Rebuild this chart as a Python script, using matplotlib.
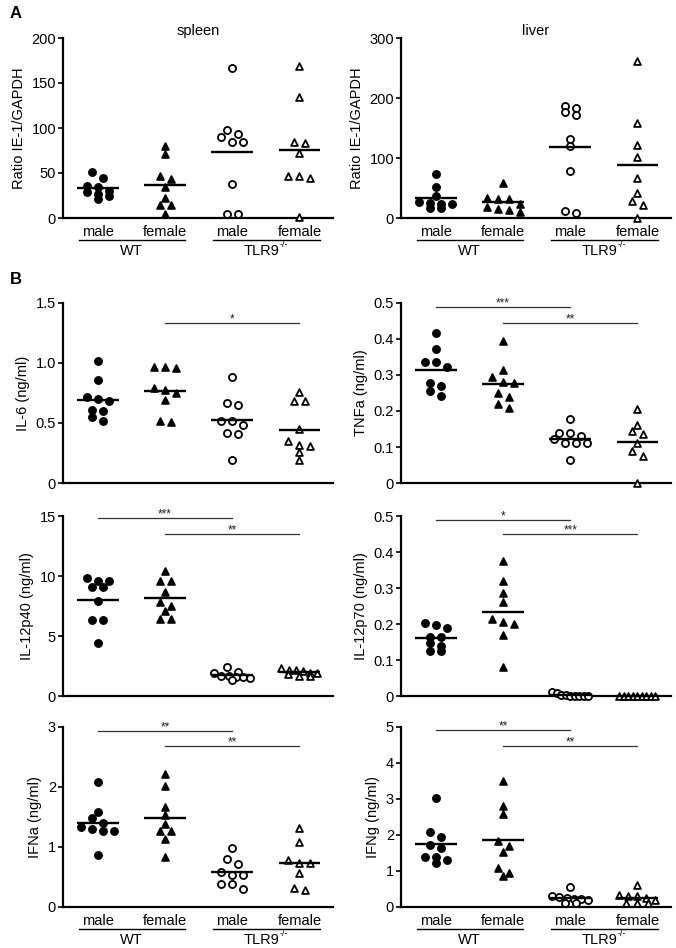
import numpy as np
import matplotlib
matplotlib.use('Agg')
import matplotlib.pyplot as plt
from matplotlib.transforms import blended_transform_factory, offset_copy

plt.rcParams['font.family'] = ['Liberation Sans', 'DejaVu Sans']

# ---------------- data ----------------
sexes = ['male', 'female', 'male', 'female']
genotypes = ['WT', 'TLR9']
genotype_sup = ['', '-/-']

# each panel: [WT male, WT female, TLR9-/- male, TLR9-/- female]
spleen = [[51, 45, 36, 35, 30, 29, 27, 25, 21],
          [80, 71, 47, 43, 35, 22, 15, 15, 4],
          [167, 98, 93, 90, 85, 85, 38, 4, 4],
          [169, 135, 84, 83, 72, 47, 45, 47, 1]]
liver = [[73, 51, 37, 27, 25, 24, 24, 17, 16],
         [58, 33, 32, 32, 24, 18, 15, 13, 10],
         [186, 183, 176, 172, 131, 120, 79, 11, 8],
         [262, 159, 122, 101, 67, 41, 29, 21, 0]]
il6 = [[1.02, 0.86, 0.72, 0.70, 0.68, 0.61, 0.60, 0.55, 0.52],
       [0.97, 0.965, 0.955, 0.795, 0.775, 0.75, 0.69, 0.515, 0.505],
       [0.88, 0.67, 0.65, 0.52, 0.52, 0.48, 0.42, 0.41, 0.19],
       [0.76, 0.68, 0.68, 0.45, 0.35, 0.32, 0.31, 0.26, 0.19]]
tnfa = [[0.416, 0.372, 0.337, 0.335, 0.323, 0.277, 0.27, 0.256, 0.242],
        [0.395, 0.314, 0.294, 0.28, 0.279, 0.249, 0.24, 0.219, 0.207],
        [0.179, 0.139, 0.139, 0.13, 0.122, 0.112, 0.112, 0.112, 0.063],
        [0.205, 0.161, 0.145, 0.135, 0.11, 0.089, 0.075, 0.0]]
il12p40 = [[9.8, 9.6, 9.6, 9.1, 9.1, 7.9, 6.3, 6.3, 4.4],
           [10.4, 9.6, 9.6, 8.7, 7.8, 7.5, 7.1, 6.4, 6.4],
           [2.4, 2.0, 1.9, 1.7, 1.7, 1.6, 1.6, 1.5, 1.3],
           [2.3, 2.2, 2.2, 2.1, 1.9, 1.9, 1.8, 1.7, 1.7]]
il12p70 = [[0.202, 0.197, 0.189, 0.165, 0.165, 0.147, 0.138, 0.124, 0.124],
           [0.375, 0.32, 0.285, 0.26, 0.215, 0.205, 0.2, 0.17, 0.08],
           [0.012, 0.009, 0.004, 0.002, 0.0, 0.0, 0.0, 0.0, 0.0],
           [0.0, 0.0, 0.0, 0.0, 0.0, 0.0, 0.0, 0.0, 0.0]]
ifna = [[2.08, 1.58, 1.48, 1.40, 1.33, 1.30, 1.27, 1.27, 0.87],
        [2.22, 2.02, 1.67, 1.53, 1.38, 1.27, 1.26, 1.14, 0.84],
        [0.99, 0.80, 0.72, 0.59, 0.54, 0.54, 0.39, 0.39, 0.30],
        [1.32, 1.08, 0.78, 0.74, 0.74, 0.56, 0.32, 0.28]]
ifng = [[3.02, 2.07, 1.95, 1.72, 1.65, 1.38, 1.38, 1.31, 1.22],
        [3.51, 2.81, 2.58, 1.84, 1.70, 1.53, 1.08, 0.94, 0.85],
        [0.55, 0.30, 0.27, 0.25, 0.22, 0.22, 0.20, 0.12, 0.12],
        [0.60, 0.32, 0.30, 0.30, 0.25, 0.20, 0.12, 0.12, 0.12]]

panels = [
    dict(data=spleen, ylabel='Ratio IE-1/GAPDH', title='spleen',
         ticks=[0, 50, 100, 150, 200], ticklabels=['0', '50', '100', '150', '200'], sig=[]),
    dict(data=liver, ylabel='Ratio IE-1/GAPDH', title='liver',
         ticks=[0, 100, 200, 300], ticklabels=['0', '100', '200', '300'], sig=[]),
    dict(data=il6, ylabel='IL-6 (ng/ml)', title=None,
         ticks=[0, 0.5, 1.0, 1.5], ticklabels=['0', '0.5', '1.0', '1.5'],
         sig=[(1, 3, 1.33, '*')]),
    dict(data=tnfa, ylabel='TNFa (ng/ml)', title=None,
         ticks=[0, 0.1, 0.2, 0.3, 0.4, 0.5], ticklabels=['0', '0.1', '0.2', '0.3', '0.4', '0.5'],
         sig=[(0, 2, 0.489, '***'), (1, 3, 0.444, '**')]),
    dict(data=il12p40, ylabel='IL-12p40 (ng/ml)', title=None,
         ticks=[0, 5, 10, 15], ticklabels=['0', '5', '10', '15'],
         sig=[(0, 2, 14.8, '***'), (1, 3, 13.5, '**')]),
    dict(data=il12p70, ylabel='IL-12p70 (ng/ml)', title=None,
         ticks=[0, 0.1, 0.2, 0.3, 0.4, 0.5], ticklabels=['0', '0.1', '0.2', '0.3', '0.4', '0.5'],
         sig=[(0, 2, 0.49, '*'), (1, 3, 0.45, '***')]),
    dict(data=ifna, ylabel='IFNa (ng/ml)', title=None,
         ticks=[0, 1, 2, 3], ticklabels=['0', '1', '2', '3'],
         sig=[(0, 2, 2.94, '**'), (1, 3, 2.68, '**')]),
    dict(data=ifng, ylabel='IFNg (ng/ml)', title=None,
         ticks=[0, 1, 2, 3, 4, 5], ticklabels=['0', '1', '2', '3', '4', '5'],
         sig=[(0, 2, 4.93, '**'), (1, 3, 4.47, '**')]),
]

# ---------------- layout ----------------
W, H = 676, 948
fig = plt.figure(figsize=(W / 100, H / 100), dpi=100)
lefts = [63, 401]
tops = [38, 303, 516, 727]
AX_W, AX_H = 270, 180
XLIM = (-0.52, 3.5)

markers = [dict(marker='o', facecolor='black'),
           dict(marker='^', facecolor='black'),
           dict(marker='o', facecolor='white'),
           dict(marker='^', facecolor='white')]

FS = 10.5


def swarm_offsets(vals, ymax):
    """simple row-based column scatter, in pixel space"""
    vals = np.asarray(vals, float)
    ypx = vals / ymax * AX_H
    xpu = AX_W / (XLIM[1] - XLIM[0])  # px per x unit
    order = np.argsort(-vals, kind='stable')
    offs = np.zeros(len(vals))
    rows = []
    cur = []
    for i in order:
        if cur and abs(ypx[cur[0]] - ypx[i]) > 5.5:
            rows.append(cur)
            cur = []
        cur.append(i)
    if cur:
        rows.append(cur)
    for r in rows:
        n = len(r)
        sep = 11.0
        if n > 1:
            sep = min(sep, 36.0 / (n - 1))
        for k, i in enumerate(r):
            offs[i] = (k - (n - 1) / 2) * sep / xpu
    return offs


geno_texts = []
for idx, p in enumerate(panels):
    row, col = divmod(idx, 2)
    top = tops[row]
    ax = fig.add_axes([lefts[col] / W, 1 - (top + AX_H) / H, AX_W / W, AX_H / H])
    ymax = p['ticks'][-1]
    ax.set_xlim(*XLIM)
    ax.set_ylim(0, ymax)
    for s in ['top', 'right']:
        ax.spines[s].set_visible(False)
    for s in ['left', 'bottom']:
        ax.spines[s].set_linewidth(1.6)
    ax.set_xticks([])
    ax.set_yticks(p['ticks'])
    ax.set_yticklabels(p['ticklabels'])
    ax.tick_params(axis='y', direction='out', length=3.5, width=1.2, labelsize=FS, pad=1.5)
    ax.set_ylabel(p['ylabel'], fontsize=FS, labelpad=4)
    if p['title']:
        ax.set_title(p['title'], fontsize=FS, pad=2)

    for g, vals in enumerate(p['data']):
        offs = swarm_offsets(vals, ymax)
        m = markers[g]
        ax.scatter(g + offs, vals, s=26 if m['marker'] == 'o' else 24, marker=m['marker'],
                   facecolor=m['facecolor'], edgecolor='black', linewidths=1.3,
                   clip_on=False, zorder=3)
        mu = np.mean(vals)
        ax.plot([g - 0.31, g + 0.31], [mu, mu], color='black', lw=1.7, zorder=4,
                solid_capstyle='butt', clip_on=False)

    for (a, b, y, star) in p['sig']:
        ax.plot([a, b], [y, y], color='#333333', lw=0.9, clip_on=False)
        ax.text((a + b) / 2, y, star, ha='center', va='center', fontsize=8.5,
                color='#222222',
                transform=offset_copy(ax.transData, fig=fig, y=3.5, units='dots'))

    # group labels below (top row and bottom row)
    if row in (0, 3):
        tr = blended_transform_factory(ax.transData, ax.transAxes)
        for g, sname in enumerate(sexes):
            ax.text(g, 0, sname, transform=offset_copy(tr, fig=fig, y=-14, units='dots'),
                    ha='center', va='center', fontsize=FS)
        for k, gname in enumerate(genotypes):
            x0, x1 = 2 * k - 0.28, 2 * k + 1 + 0.3
            ax.plot([x0, x1], [0, 0], color='black', lw=1.0, clip_on=False,
                    transform=offset_copy(tr, fig=fig, y=-21.5, units='dots'))
            t = ax.text(2 * k + 0.5, 0, gname,
                        transform=offset_copy(tr, fig=fig, y=-33, units='dots'),
                        ha='center', va='center', fontsize=FS)
            if genotype_sup[k]:
                geno_texts.append((ax, t, genotype_sup[k]))

fig.text(10 / W, 1 - 14 / H, 'A', fontsize=12, fontweight='bold', ha='left', va='center')
fig.text(10 / W, 1 - 280 / H, 'B', fontsize=12, fontweight='bold', ha='left', va='center')

# superscripts (-/-) after TLR9 labels
fig.canvas.draw()
renderer = fig.canvas.get_renderer()
for ax, t, sup in geno_texts:
    bb = t.get_window_extent(renderer)
    # shift main text left so that text + superscript stay centred
    sup_t = fig.text(0, 0, sup, fontsize=FS * 0.62, ha='left', va='bottom')
    sbb = sup_t.get_window_extent(renderer)
    shift = sbb.width / 2
    x_main = (bb.x0 + bb.x1) / 2 - shift
    t.set_transform(offset_copy(t.get_transform(), fig=fig, x=-shift, units='dots'))
    sup_t.set_position(((bb.x1 - shift + 0.5) / W, (bb.y1 - 5) / H))

fig.savefig('out.png', dpi=100)
